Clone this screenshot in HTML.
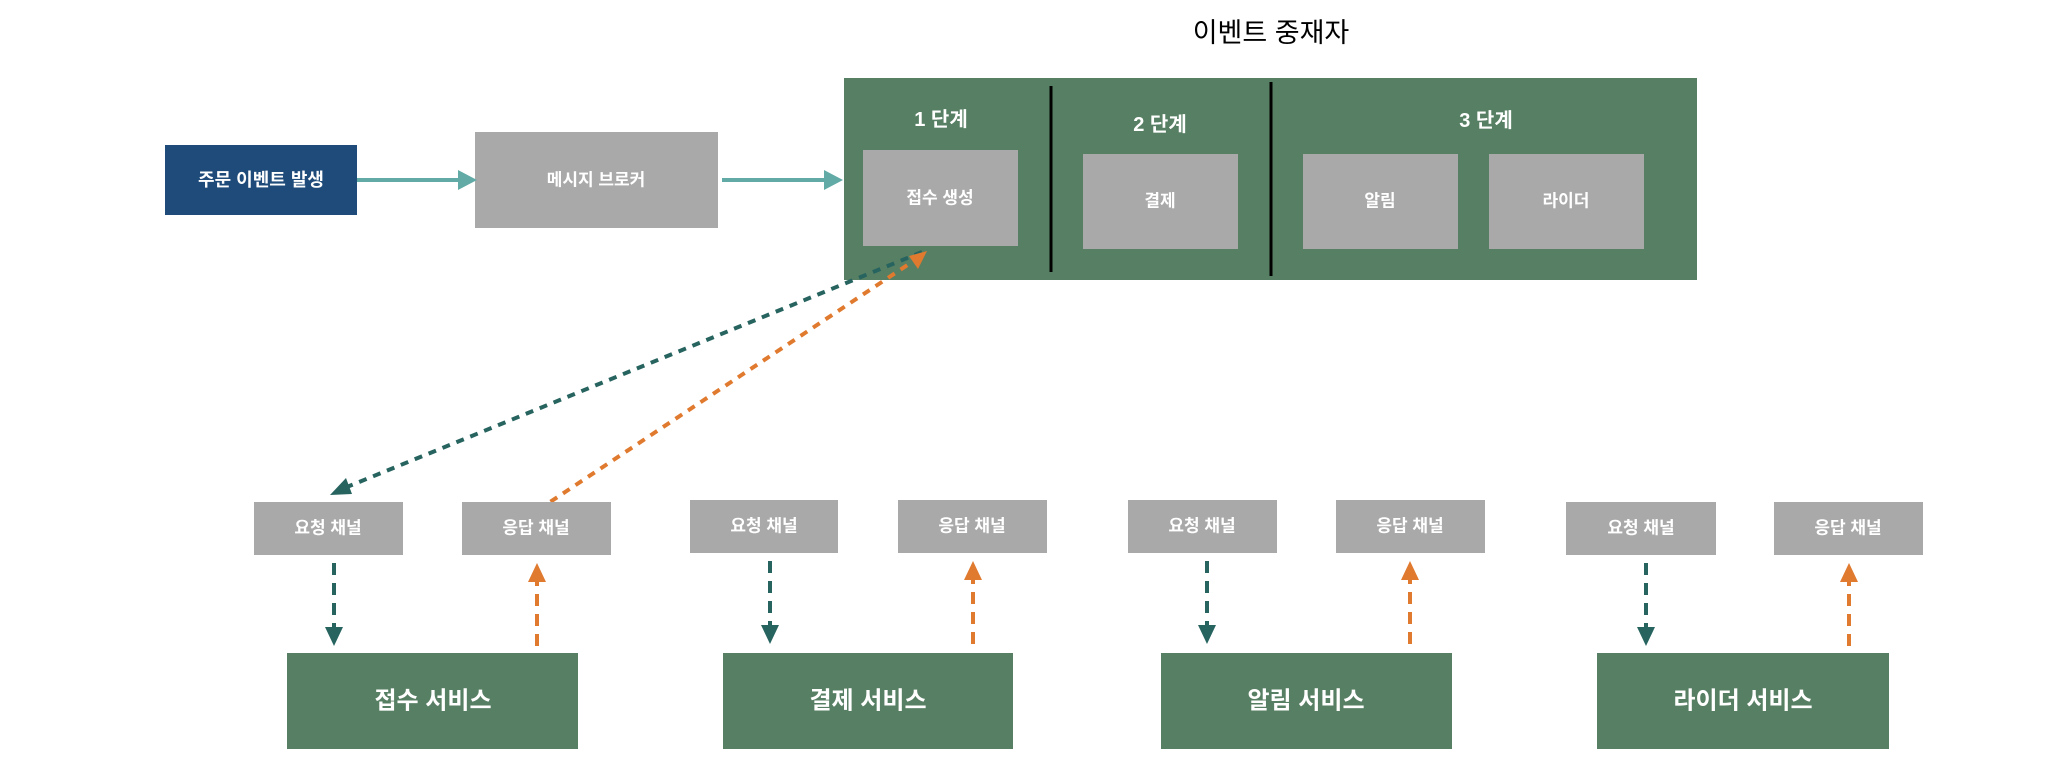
<!DOCTYPE html>
<html><head><meta charset="utf-8"><style>
html,body{margin:0;padding:0;background:#fff;}
body{width:2070px;height:776px;overflow:hidden;}
svg text{font-family:"Liberation Sans","Noto Sans CJK KR",sans-serif;font-weight:bold;fill:#fff;text-anchor:middle;dominant-baseline:central;}
</style></head><body>
<svg width="2070" height="776" viewBox="0 0 2070 776" xmlns="http://www.w3.org/2000/svg">
<defs>
<marker id="mt" markerWidth="10" markerHeight="10" refX="9" refY="5" orient="auto" markerUnits="userSpaceOnUse"><path d="M0,0 L10,5 L0,10 z" fill="#62aaa6"/></marker>
</defs>
<text x="1271" y="33" style="fill:#000;font-weight:normal;font-size:27px">이벤트 중재자</text>
<!-- top row -->
<rect x="165" y="145" width="192" height="70" fill="#1f4b7a"/>
<text x="261" y="180" font-size="18">주문 이벤트 발생</text>
<rect x="475" y="132" width="243" height="96" fill="#a9a9a9"/>
<text x="596" y="180" font-size="17">메시지 브로커</text>
<line x1="357" y1="180" x2="462" y2="180" stroke="#62aaa6" stroke-width="4"/>
<path d="M458,170 L477,180 L458,190 z" fill="#62aaa6"/>
<line x1="722" y1="180" x2="828" y2="180" stroke="#62aaa6" stroke-width="4"/>
<path d="M824,170 L843,180 L824,190 z" fill="#62aaa6"/>
<!-- mediator -->
<rect x="844" y="78" width="853" height="202" fill="#577f63"/>
<line x1="1051" y1="86" x2="1051" y2="272" stroke="#000" stroke-width="3"/>
<line x1="1271" y1="82" x2="1271" y2="276" stroke="#000" stroke-width="3"/>
<text x="941" y="120" font-size="20">1 단계</text>
<text x="1160" y="125" font-size="20">2 단계</text>
<text x="1486" y="121" font-size="20">3 단계</text>
<rect x="863" y="150" width="155" height="96" fill="#a9a9a9"/>
<text x="940" y="198" font-size="17">접수 생성</text>
<rect x="1083" y="154" width="155" height="95" fill="#a9a9a9"/>
<text x="1160" y="201" font-size="17">결제</text>
<rect x="1303" y="154" width="155" height="95" fill="#a9a9a9"/>
<text x="1380" y="201" font-size="17">알림</text>
<rect x="1489" y="154" width="155" height="95" fill="#a9a9a9"/>
<text x="1566" y="201" font-size="17">라이더</text>
<!-- diagonals -->
<line x1="922" y1="252" x2="342" y2="489" stroke="#276460" stroke-width="4" stroke-dasharray="8,7"/>
<path d="M330,495 L346,478 L352,494 z" fill="#276460"/>
<line x1="538" y1="510" x2="915" y2="260" stroke="#e07a2f" stroke-width="4" stroke-dasharray="8,7"/>
<path d="M927,251 L909,256 L918,269 z" fill="#e07a2f"/>
<!-- groups -->
<g id="g1">
<rect x="254" y="502" width="149" height="53" fill="#a9a9a9"/><text x="328" y="528" font-size="17">요청 채널</text>
<rect x="462" y="502" width="149" height="53" fill="#a9a9a9"/><text x="536" y="528" font-size="17">응답 채널</text>
<line x1="334" y1="563" x2="334" y2="630" stroke="#276460" stroke-width="4" stroke-dasharray="12,8"/>
<path d="M325,627 L343,627 L334,646 z" fill="#276460"/>
<line x1="537" y1="646" x2="537" y2="580" stroke="#e07a2f" stroke-width="4" stroke-dasharray="12,8"/>
<path d="M528,582 L546,582 L537,563 z" fill="#e07a2f"/>
<rect x="287" y="653" width="291" height="96" fill="#577f63"/><text x="433" y="701" font-size="24">접수 서비스</text>
</g>
<rect x="690" y="500" width="148" height="53" fill="#a9a9a9"/><text x="764" y="526" font-size="17">요청 채널</text>
<rect x="898" y="500" width="149" height="53" fill="#a9a9a9"/><text x="972" y="526" font-size="17">응답 채널</text>
<line x1="770" y1="561" x2="770" y2="628" stroke="#276460" stroke-width="4" stroke-dasharray="12,8"/>
<path d="M761,625 L779,625 L770,644 z" fill="#276460"/>
<line x1="973" y1="644" x2="973" y2="578" stroke="#e07a2f" stroke-width="4" stroke-dasharray="12,8"/>
<path d="M964,580 L982,580 L973,561 z" fill="#e07a2f"/>
<rect x="723" y="653" width="290" height="96" fill="#577f63"/><text x="868" y="701" font-size="24">결제 서비스</text>

<rect x="1128" y="500" width="149" height="53" fill="#a9a9a9"/><text x="1202" y="526" font-size="17">요청 채널</text>
<rect x="1336" y="500" width="149" height="53" fill="#a9a9a9"/><text x="1410" y="526" font-size="17">응답 채널</text>
<line x1="1207" y1="561" x2="1207" y2="628" stroke="#276460" stroke-width="4" stroke-dasharray="12,8"/>
<path d="M1198,625 L1216,625 L1207,644 z" fill="#276460"/>
<line x1="1410" y1="644" x2="1410" y2="578" stroke="#e07a2f" stroke-width="4" stroke-dasharray="12,8"/>
<path d="M1401,580 L1419,580 L1410,561 z" fill="#e07a2f"/>
<rect x="1161" y="653" width="291" height="96" fill="#577f63"/><text x="1306" y="701" font-size="24">알림 서비스</text>

<rect x="1566" y="502" width="150" height="53" fill="#a9a9a9"/><text x="1641" y="528" font-size="17">요청 채널</text>
<rect x="1774" y="502" width="149" height="53" fill="#a9a9a9"/><text x="1848" y="528" font-size="17">응답 채널</text>
<line x1="1646" y1="563" x2="1646" y2="630" stroke="#276460" stroke-width="4" stroke-dasharray="12,8"/>
<path d="M1637,627 L1655,627 L1646,646 z" fill="#276460"/>
<line x1="1849" y1="646" x2="1849" y2="580" stroke="#e07a2f" stroke-width="4" stroke-dasharray="12,8"/>
<path d="M1840,582 L1858,582 L1849,563 z" fill="#e07a2f"/>
<rect x="1597" y="653" width="292" height="96" fill="#577f63"/><text x="1743" y="701" font-size="24">라이더 서비스</text>
</svg>
</body></html>
